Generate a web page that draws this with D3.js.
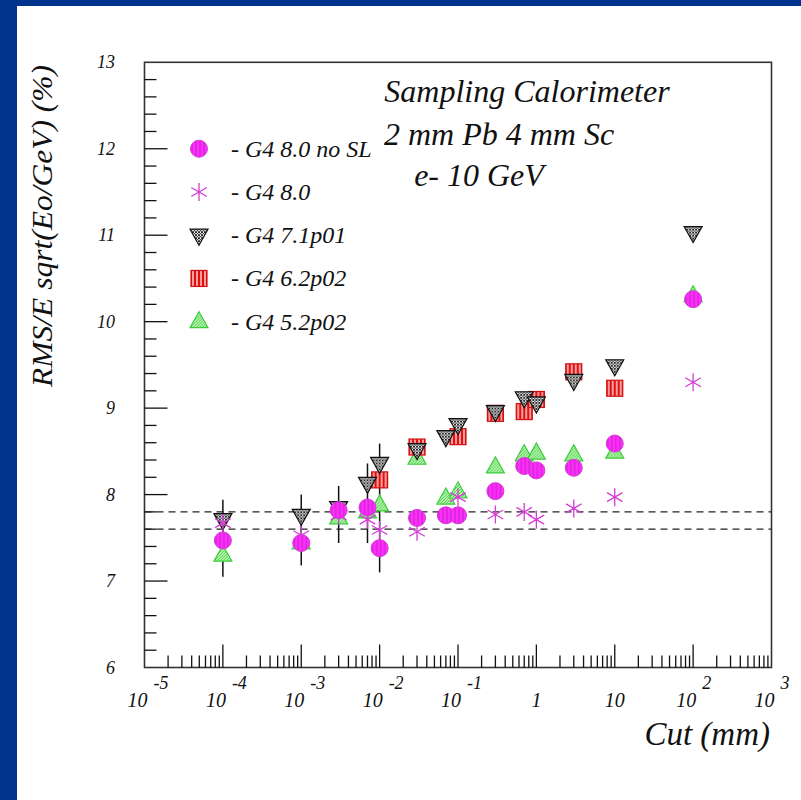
<!DOCTYPE html>
<html>
<head>
<meta charset="utf-8">
<script src="https://cdn.jsdelivr.net/npm/d3@7"></script>
<style>
  html, body { margin: 0; padding: 0; background: #fff; }
  svg { display: block; }
</style>
</head>
<body>
<div class="containers"></div>
<script>
// cut values (mm) and RMS/E sqrt(E) (%) for each Geant4 version
const cutsNoSL = [1e-4, 1e-3, 3e-3, 7e-3, 1e-2, 0.03, 0.07, 0.1, 0.3, 0.7, 1, 3, 10, 100]
const resNoSL  = [7.47, 7.44, 7.82, 7.85, 7.38, 7.73, 7.76, 7.76, 8.04, 8.33, 8.28, 8.31, 8.59, 10.26]

const cuts80 = [1e-4, 1e-3, 3e-3, 7e-3, 1e-2, 0.03, 0.1, 0.3, 0.7, 1, 3, 10, 100]
const res80  = [7.67, 7.53, 7.76, 7.71, 7.59, 7.57, 7.97, 7.77, 7.80, 7.71, 7.84, 7.97, 9.30]

const cuts71 = [1e-4, 1e-3, 3e-3, 7e-3, 1e-2, 0.03, 0.07, 0.1, 0.3, 0.7, 1, 3, 10, 100]
const res71  = [7.71, 7.76, 7.85, 8.13, 8.36, 8.52, 8.67, 8.81, 8.96, 9.12, 9.06, 9.32, 9.49, 11.03]

const cuts62 = [1e-2, 0.03, 0.1, 0.3, 0.7, 1, 3, 10]
const res62  = [8.17, 8.55, 8.67, 8.94, 8.96, 9.10, 9.42, 9.23]

const cuts52 = [1e-4, 1e-3, 3e-3, 7e-3, 1e-2, 0.03, 0.07, 0.1, 0.3, 0.7, 1, 3, 10, 100]
const res52  = [7.30, 7.44, 7.73, 7.80, 7.88, 8.42, 7.96, 8.03, 8.32, 8.46, 8.48, 8.46, 8.49, 10.30]

// vertical error bars (low, high)
const errCuts = [1e-4, 1e-3, 3e-3, 7e-3, 1e-2]
const errLow  = [7.05, 7.18, 7.44, 7.44, 7.10]
const errHigh = [7.94, 8.00, 8.10, 8.36, 8.59]

// reference band (dashed lines)
const refLines = [7.6, 7.8]

const legendLabels = ['- G4 8.0 no SL', '- G4 8.0', '- G4 7.1p01', '- G4 6.2p02', '- G4 5.2p02']
const titleLines = ['Sampling Calorimeter', '2 mm Pb 4 mm Sc', 'e- 10 GeV']

const width = 801
const height = 800
const serif = "'Liberation Serif', 'Times New Roman', Times, serif"

const svg = d3
  .select('.containers')
  .append('svg')
  .attr('width', width)
  .attr('height', height)
  .attr('font-family', serif)
  .attr('font-style', 'italic')
  .attr('fill', '#111')

// blue slide frame
svg.append('rect').attr('x', 0).attr('y', 0).attr('width', width).attr('height', 6).attr('fill', '#00338c')
svg.append('rect').attr('x', 0).attr('y', 0).attr('width', 17).attr('height', height).attr('fill', '#00338c')

const x = d3.scaleLog().domain([1e-5, 1e3]).range([144.5, 771.5])
const y = d3.scaleLinear().domain([6, 13]).range([667.5, 62.3])

// hatch patterns for markers
const defs = svg.append('defs')
const pCircle = defs.append('pattern').attr('id', 'pCircle').attr('patternUnits', 'userSpaceOnUse')
  .attr('width', 4).attr('height', 4)
pCircle.append('rect').attr('width', 4).attr('height', 4).attr('fill', '#ff2eff')
pCircle.append('line').attr('x1', 1).attr('x2', 1).attr('y1', 0).attr('y2', 4).attr('stroke', '#c020c0').attr('stroke-width', 1)

const pSquare = defs.append('pattern').attr('id', 'pSquare').attr('patternUnits', 'userSpaceOnUse')
  .attr('width', 4).attr('height', 4)
pSquare.append('rect').attr('width', 4).attr('height', 4).attr('fill', '#e41010')
pSquare.append('line').attr('x1', 2).attr('x2', 2).attr('y1', 0).attr('y2', 4).attr('stroke', '#fff').attr('stroke-width', 1.2)

const pDown = defs.append('pattern').attr('id', 'pDown').attr('patternUnits', 'userSpaceOnUse')
  .attr('width', 3).attr('height', 3)
pDown.append('rect').attr('width', 3).attr('height', 3).attr('fill', '#fff')
pDown.append('path').attr('d', 'M0,0L3,3M3,0L0,3').attr('stroke', '#111').attr('stroke-width', 0.9)

const pUp = defs.append('pattern').attr('id', 'pUp').attr('patternUnits', 'userSpaceOnUse')
  .attr('width', 3).attr('height', 3)
pUp.append('rect').attr('width', 3).attr('height', 3).attr('fill', '#b8f5b0')
pUp.append('path').attr('d', 'M0,3L3,0').attr('stroke', '#3dcc3d').attr('stroke-width', 0.9)

// marker drawers
const drawCircle = (g) => {
  g.append('circle').attr('r', 8.5).attr('fill', 'url(#pCircle)').attr('stroke', '#d23cd2').attr('stroke-width', 1)
}
const drawStar = (g) => {
  g.append('path')
    .attr('d', 'M0,-9L0,9M-7.8,-4.5L7.8,4.5M-7.8,4.5L7.8,-4.5')
    .attr('stroke', '#d63cd6').attr('stroke-width', 1.3).attr('fill', 'none')
}
const drawDown = (g) => {
  g.append('path').attr('d', 'M-9,-6L9,-6L0,10Z').attr('fill', 'url(#pDown)').attr('stroke', '#111').attr('stroke-width', 1.2)
}
const drawSquare = (g) => {
  g.append('rect').attr('x', -8).attr('y', -8).attr('width', 16).attr('height', 16)
    .attr('fill', 'url(#pSquare)').attr('stroke', '#d01010').attr('stroke-width', 1.2)
}
const drawUp = (g) => {
  g.append('path').attr('d', 'M-9,6L9,6L0,-10Z').attr('fill', 'url(#pUp)').attr('stroke', '#3dcc3d').attr('stroke-width', 1.2)
}

const series = [
  { cuts: cutsNoSL, res: resNoSL, draw: drawCircle },
  { cuts: cuts80, res: res80, draw: drawStar },
  { cuts: cuts71, res: res71, draw: drawDown },
  { cuts: cuts62, res: res62, draw: drawSquare },
  { cuts: cuts52, res: res52, draw: drawUp }
]

// axis frame and ticks
const axes = svg.append('g')
axes.append('rect')
  .attr('x', x.range()[0]).attr('y', y.range()[1])
  .attr('width', x.range()[1] - x.range()[0]).attr('height', y.range()[0] - y.range()[1])
  .attr('fill', 'none').attr('stroke', '#333').attr('stroke-width', 1.6)

const xTicks = x.ticks().filter(d => d > 1e-5 * 1.01 && d < 1e3 * 0.99)
const isDecade = d => Math.abs(Math.log10(d) - Math.round(Math.log10(d))) < 1e-6
axes.selectAll('line.xt')
  .data(xTicks)
  .join('line')
  .attr('x1', d => x(d)).attr('x2', d => x(d))
  .attr('y1', y(6)).attr('y2', d => y(6) - (isDecade(d) ? 23 : 12))
  .attr('stroke', '#111').attr('stroke-width', 1.3)

const yTicks = d3.range(6.2, 12.9, 0.2)
axes.selectAll('line.yt')
  .data(yTicks)
  .join('line')
  .attr('y1', d => y(d)).attr('y2', d => y(d))
  .attr('x1', x(1e-5)).attr('x2', d => x(1e-5) + (Math.abs(d - Math.round(d)) < 1e-6 ? 23 : 12))
  .attr('stroke', '#111').attr('stroke-width', 1.3)

// y tick labels
axes.selectAll('text.yl')
  .data(d3.range(6, 14))
  .join('text')
  .attr('x', 115).attr('y', d => y(d) + 6)
  .attr('text-anchor', 'end')
  .attr('font-size', 18)
  .text(d => d)

// x tick labels (10^n)
const decades = d3.range(-5, 4)
decades.forEach(k => {
  const px = x(Math.pow(10, k))
  if (k === 0) {
    axes.append('text').attr('x', px).attr('y', 707).attr('text-anchor', 'middle').attr('font-size', 20).text('1')
  } else if (k === 1) {
    axes.append('text').attr('x', px).attr('y', 707).attr('text-anchor', 'middle').attr('font-size', 20).text('10')
  } else {
    axes.append('text').attr('x', px + 3).attr('y', 707).attr('text-anchor', 'end').attr('font-size', 20).text('10')
    axes.append('text').attr('x', px + 9).attr('y', 689).attr('text-anchor', 'start').attr('font-size', 18).text(String(k))
  }
})

svg.append('text').attr('x', 770).attr('y', 745).attr('text-anchor', 'end').attr('font-size', 33).text('Cut (mm)')
svg.append('text')
  .attr('transform', 'translate(52,226) rotate(-90)')
  .attr('text-anchor', 'middle').attr('font-size', 29)
  .attr('textLength', 322).attr('lengthAdjust', 'spacingAndGlyphs')
  .text('RMS/E sqrt(Eo/GeV) (%)')

// dashed reference lines
svg.append('g').selectAll('line')
  .data(refLines)
  .join('line')
  .attr('x1', x(1e-5)).attr('x2', x(1e3))
  .attr('y1', d => y(d)).attr('y2', d => y(d))
  .attr('stroke', '#222').attr('stroke-width', 1.2).attr('stroke-dasharray', '7,5')

// error bars
svg.append('g').selectAll('line')
  .data(errCuts)
  .join('line')
  .attr('x1', d => x(d)).attr('x2', d => x(d))
  .attr('y1', (d, i) => y(errLow[i])).attr('y2', (d, i) => y(errHigh[i]))
  .attr('stroke', '#111').attr('stroke-width', 1.5)

// markers, drawn last series first
const pts = svg.append('g')
series.slice().reverse().forEach(s => {
  s.cuts.forEach((c, i) => {
    const g = pts.append('g').attr('transform', `translate(${x(c)},${y(s.res[i])})`)
    s.draw(g)
  })
})

// legend
const leg = svg.append('g')
legendLabels.forEach((lab, i) => {
  const yy = y(12 - i * 0.5)
  const g = leg.append('g').attr('transform', `translate(199,${yy})`)
  series[i].draw(g)
  leg.append('text').attr('x', 231).attr('y', yy + 8).attr('font-size', 24).text(lab)
})

// title block
const titleX = [527, 499, 479]
const titleY = [102, 145, 186]
titleLines.forEach((t, i) => {
  svg.append('text').attr('x', titleX[i]).attr('y', titleY[i]).attr('text-anchor', 'middle').attr('font-size', 32).text(t)
})
</script>
</body>
</html>
